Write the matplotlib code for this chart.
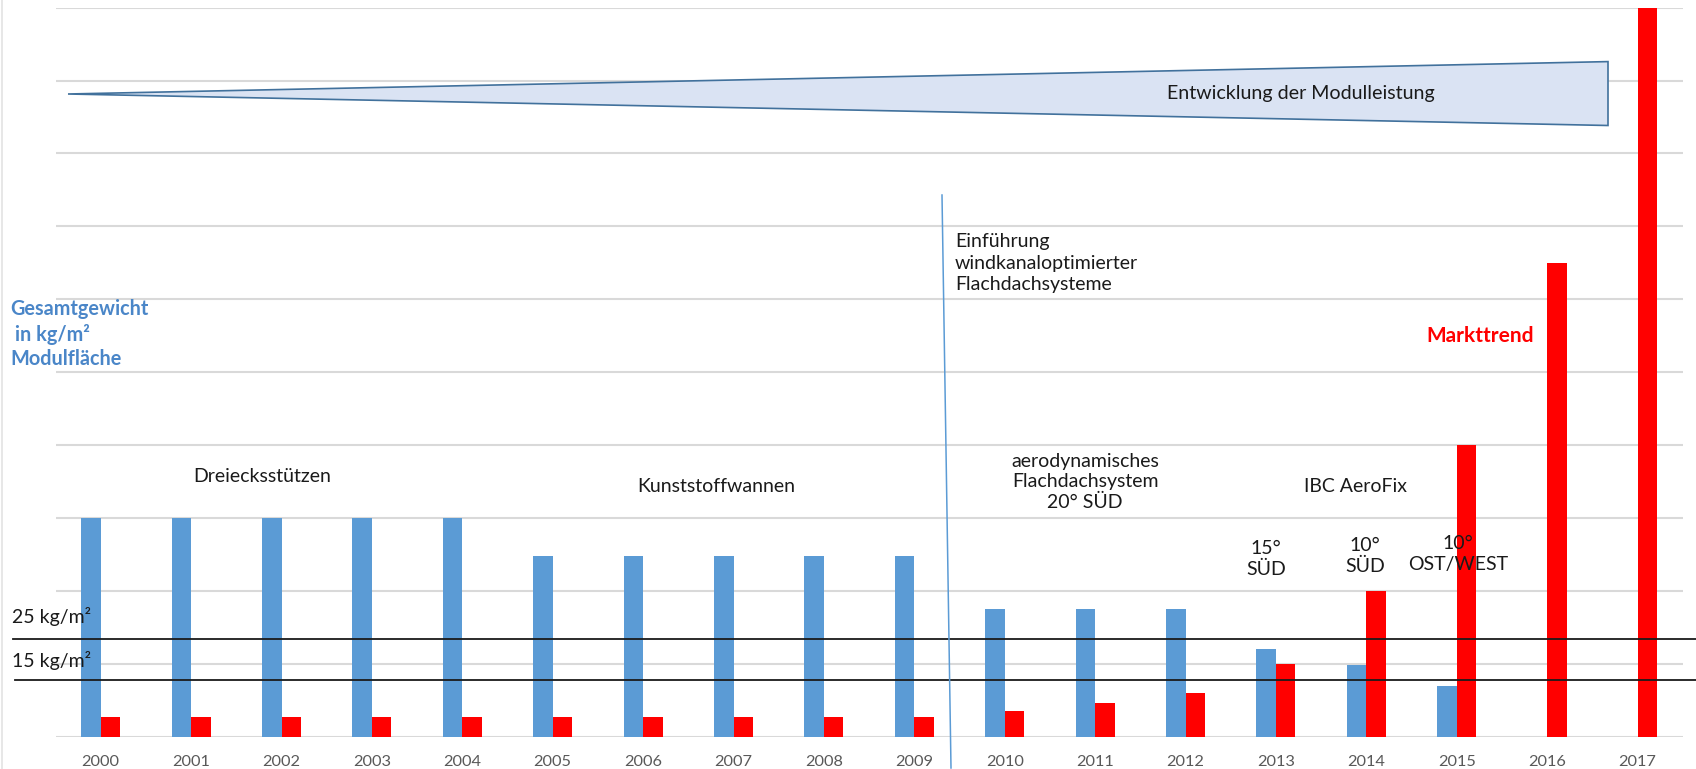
import matplotlib
matplotlib.use("Agg")
import matplotlib.pyplot as plt
import numpy as np
from matplotlib.patches import Polygon
from matplotlib.lines import Line2D

plt.rcParams['font.family'] = ['Lato', 'DejaVu Sans']

# ---- data ----
years = ['2000', '2001', '2002', '2003', '2004', '2005', '2006', '2007', '2008',
         '2009', '2010', '2011', '2012', '2013', '2014', '2015', '2016', '2017']
gesamtgewicht = [60, 60, 60, 60, 60, 49.5, 49.5, 49.5, 49.5, 49.5,
                 35, 35, 35, 24, 19.6, 14, 0, 0]
markttrend = [5.3, 5.3, 5.3, 5.3, 5.3, 5.3, 5.3, 5.3, 5.3, 5.3,
              7.1, 9.2, 12, 20, 40, 80, 130, 200]
grid_ticks = list(range(0, 201, 20))
ref_levels = [26.7, 15.5]
ref_labels = ['25 kg/m²', '15 kg/m²']

W, H = 1696, 769
fig = plt.figure(figsize=(W / 100, H / 100), dpi=100)
ax = fig.add_axes([55.5 / W, 1 - 736.6 / H, (1682.7 - 55.5) / W, (736.6 - 7.6) / H])

x = np.arange(len(years))
bw = 0.216
ax.bar(x - bw / 2, gesamtgewicht, width=bw, color='#5b9bd5', zorder=3)
ax.bar(x + bw / 2, markttrend, width=bw, color='#ff0000', zorder=3)

ax.set_xlim(-0.5, len(years) - 0.5)
ax.set_ylim(0, 200)
ax.set_yticks(grid_ticks)
ax.yaxis.grid(True, color='#d9d9d9', lw=1.5, zorder=0)
ax.tick_params(axis='y', left=False, labelleft=False)
ax.set_xticks(x)
ax.set_xticklabels(years, fontsize=11.8, color='#595959')
ax.tick_params(axis='x', length=0, pad=13)
for s in ax.spines.values():
    s.set_visible(False)


def fx(px):
    return px / W


def fy(py):
    return 1 - py / H


# reference lines (25 / 15 kg/m²)
trans = ax.get_yaxis_transform()
for lvl, lab, x0 in zip(ref_levels, ref_labels, [13, 15]):
    ax.plot([(x0 - 55.5) / (1682.7 - 55.5), 1.01], [lvl, lvl], transform=trans,
            color='#1a1a1a', lw=1.3, clip_on=False, zorder=4)
fig.text(fx(12), fy(617), ref_labels[0], fontsize=14, color='#1a1a1a', va='center', ha='left')
fig.text(fx(12), fy(660), ref_labels[1], fontsize=14, color='#1a1a1a', va='center', ha='left')

# faint left border
fig.add_artist(Line2D([fx(1.5), fx(1.5)], [0, 1], color='#e3e3e3', lw=1.2))

# triangle
tri = Polygon([[fx(68), fy(94)], [fx(1608), fy(61.6)], [fx(1608), fy(125.5)]],
              closed=True, transform=fig.transFigure, facecolor='#dae3f3',
              edgecolor='#41719c', lw=1.2, zorder=5)
fig.add_artist(tri)
fig.text(fx(1301), fy(94), 'Entwicklung der Modulleistung', fontsize=14.1,
         color='#1a1a1a', ha='center', va='center', zorder=6)

# vertical blue separator
fig.add_artist(Line2D([fx(942), fx(951)], [fy(195), fy(768)], color='#5b9bd5', lw=1.1))

txtc = '#1a1a1a'
fs = 14
fig.text(fx(955), fy(263), 'Einführung\nwindkanaloptimierter\nFlachdachsysteme',
         fontsize=fs, color=txtc, ha='left', va='center', linespacing=1.3)

fig.text(fx(10), fy(334), 'Gesamtgewicht\n in kg/m²\nModulfläche', fontsize=14.3,
         color='#4a86c8', fontweight='bold', ha='left', va='center', linespacing=1.27)

fig.text(fx(262), fy(476), 'Dreiecksstützen', fontsize=fs, color=txtc, ha='center', va='center')
fig.text(fx(716), fy(486), 'Kunststoffwannen', fontsize=fs, color=txtc, ha='center', va='center')
fig.text(fx(1085), fy(482), 'aerodynamisches\nFlachdachsystem\n20° SÜD', fontsize=fs,
         color=txtc, ha='center', va='center', linespacing=1.22, multialignment='center')
fig.text(fx(1355), fy(487), 'IBC AeroFix', fontsize=fs, color=txtc, ha='center', va='center')
fig.text(fx(1266), fy(559), '15°\nSÜD', fontsize=fs, color=txtc, ha='center', va='center',
         linespacing=1.32, multialignment='center')
fig.text(fx(1365), fy(556), '10°\nSÜD', fontsize=fs, color=txtc, ha='center', va='center',
         linespacing=1.32, multialignment='center')
fig.text(fx(1458), fy(554), '10°\nOST/WEST', fontsize=fs, color=txtc, ha='center', va='center',
         linespacing=1.32, multialignment='center', zorder=6)
fig.text(fx(1480), fy(336), 'Markttrend', fontsize=15, color='#ff0000', fontweight='bold',
         ha='center', va='center')

fig.savefig('out.png', dpi=100)
